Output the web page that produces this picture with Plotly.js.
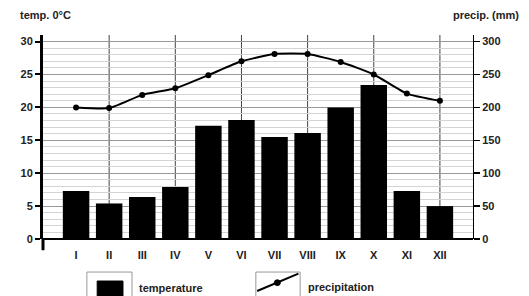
<!DOCTYPE html>
<html>
<head>
<meta charset="utf-8">
<script src="https://cdn.plot.ly/plotly-3.0.1.min.js"></script>
<style>html,body{margin:0;padding:0;background:#fff;}#chart{width:529px;height:296px;}</style>
</head>
<body>
<div id="chart"></div>
<script>
const months = ["I","II","III","IV","V","VI","VII","VIII","IX","X","XI","XII"];
const temperature = [7.3, 5.4, 6.4, 7.9, 17.2, 18.1, 15.5, 16.1, 20.0, 23.4, 7.3, 5.0];
const precipitation = [200, 199, 219, 229, 249, 270, 281, 281, 269, 250, 221, 210];
const tempTicks = [0, 5, 10, 15, 20, 25, 30];
const precTicks = [0, 50, 100, 150, 200, 250, 300];

const idx = months.map((m, i) => i);
const minorY = [];
for (let v = 1; v < 30; v++) if (v % 5 !== 0) minorY.push(v);
const gridX = idx.filter(i => i % 2 === 1);

const F = {family: "Liberation Sans, Arial, sans-serif", size: 11, color: "#222", weight: "bold"};

const traces = [
  {type: "bar", x: idx, y: temperature, width: 0.8, marker: {color: "#000"}, name: "temperature", yaxis: "y", showlegend: false},
  {type: "scatter", mode: "lines+markers", x: idx, y: precipitation, yaxis: "y2", name: "precipitation",
   line: {color: "#000", width: 2, shape: "spline", smoothing: 0.5}, marker: {color: "#000", size: 6}, showlegend: false}
];

const vgrid = gridX.map(i => ({type: "line", xref: "x", yref: "paper", x0: i, x1: i, y0: 0, y1: 1, layer: "between",
  line: {color: "#444", width: 1}}));

const layout = {
  width: 529, height: 296,
  margin: {l: 43, r: 56, t: 35, b: 57},
  paper_bgcolor: "#fff", plot_bgcolor: "#fff",
  font: F,
  showlegend: false,
  xaxis: {
    range: [-1, 12], tickmode: "array", tickvals: idx, ticktext: months,
    showgrid: false, zeroline: false, showline: false, ticks: "", tickfont: F, ticklabelstandoff: 8
  },
  yaxis: {
    range: [0, 31], tickmode: "array", tickvals: tempTicks,
    showgrid: true, gridcolor: "#999", gridwidth: 1,
    zeroline: true, zerolinecolor: "#000", zerolinewidth: 2,
    showline: true, linecolor: "#000", linewidth: 3,
    ticks: "outside", ticklen: 5, tickwidth: 2, tickcolor: "#000", tickfont: F,
    minor: {tickmode: "array", tickvals: minorY, showgrid: true, gridcolor: "#d4d4d4", gridwidth: 1, griddash: "solid"}
  },
  yaxis2: {
    range: [0, 310], overlaying: "y", side: "right", tickmode: "array", tickvals: precTicks,
    showgrid: false, zeroline: false, showline: true, linecolor: "#000", linewidth: 1,
    ticks: "outside", ticklen: 6, tickwidth: 1.5, tickcolor: "#000", tickfont: F
  },
  shapes: vgrid.concat([
    {type: "line", xref: "paper", yref: "paper", x0: 0, x1: 0, y0: -0.055, y1: 0, line: {color: "#000", width: 3}},
    {type: "rect", xref: "paper", yref: "paper", x0: 0.102, x1: 0.207, y0: -0.29, y1: -0.162, line: {color: "#999", width: 1}, fillcolor: "rgba(0,0,0,0)"},
    {type: "rect", xref: "paper", yref: "paper", x0: 0.126, x1: 0.186, y0: -0.29, y1: -0.206, line: {color: "#000", width: 1}, fillcolor: "#000"},
    {type: "rect", xref: "paper", yref: "paper", x0: 0.495, x1: 0.598, y0: -0.29, y1: -0.162, line: {color: "#999", width: 1}, fillcolor: "rgba(0,0,0,0)"},
    {type: "line", xref: "paper", yref: "paper", x0: 0.498, x1: 0.594, y0: -0.255, y1: -0.170, line: {color: "#000", width: 2}},
    {type: "circle", xref: "paper", yref: "paper", x0: 0.538, x1: 0.552, y0: -0.228, y1: -0.200, line: {color: "#000", width: 1}, fillcolor: "#000"}
  ]),
  annotations: [
    {xref: "paper", yref: "paper", x: -0.058, y: 1.1, xanchor: "left", yanchor: "middle", text: "temp. 0°C", showarrow: false, font: F},
    {xref: "paper", yref: "paper", x: 1.112, y: 1.1, xanchor: "right", yanchor: "middle", text: "precip. (mm)", showarrow: false, font: F},
    {xref: "paper", yref: "paper", x: 0.219, y: -0.24, xanchor: "left", yanchor: "middle", text: "temperature", showarrow: false, font: F},
    {xref: "paper", yref: "paper", x: 0.612, y: -0.235, xanchor: "left", yanchor: "middle", text: "precipitation", showarrow: false, font: F}
  ]
};

Plotly.newPlot("chart", traces, layout, {displayModeBar: false, staticPlot: true});
</script>
</body>
</html>
